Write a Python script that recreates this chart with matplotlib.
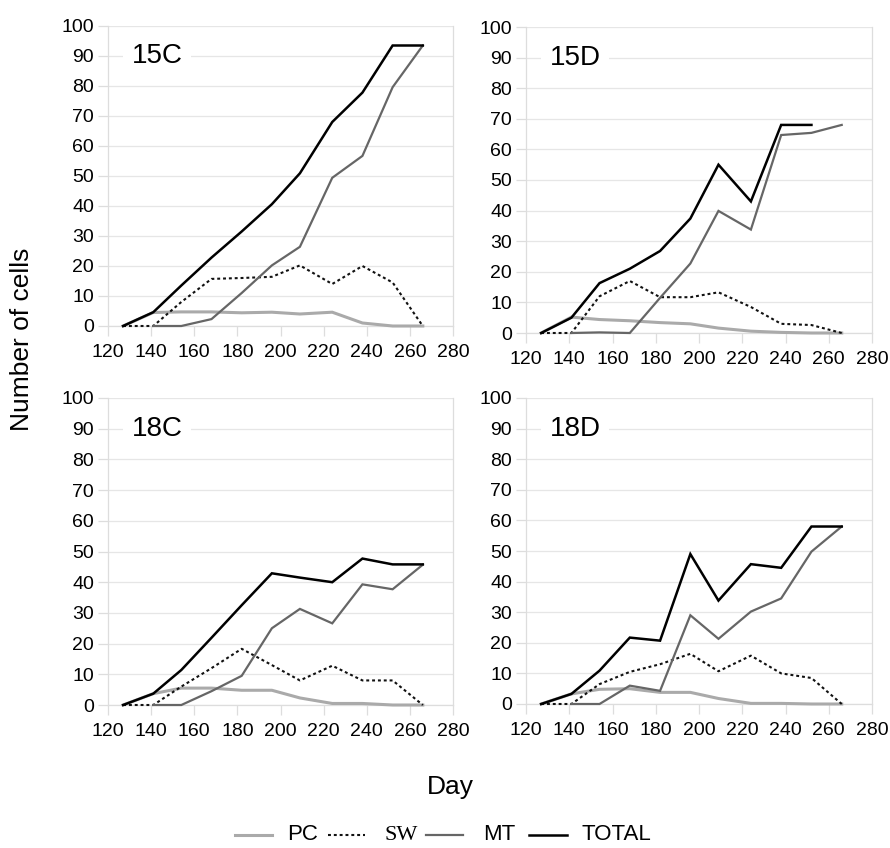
import numpy as np
import matplotlib
matplotlib.use("Agg")
import matplotlib.pyplot as plt
from matplotlib.lines import Line2D

plt.rcParams["font.family"] = ["Liberation Sans", "DejaVu Sans"]

days = [127, 141, 154, 168, 182, 196, 209, 224, 238, 252, 266]
panels = ["15C", "15D", "18C", "18D"]

pc_15C = [0, 4.5, 4.7, 4.7, 4.4, 4.6, 4.0, 4.6, 1.0, 0, 0]
sw_15C = [0, 0, 8, 15.7, 16.0, 16.4, 20.2, 14.0, 20.0, 14.5, 0]
mt_15C = [np.nan, 0, 0, 2.3, 11.0, 20.2, 26.4, 49.4, 56.7, 79.6, 93.5]
tot_15C = [0, 4.6, 13.5, 22.8, 31.5, 40.6, 50.9, 68.0, 77.8, 93.5, 93.5]

pc_15D = [0, 5.2, 4.4, 4.0, 3.4, 3.0, 1.6, 0.6, 0.2, 0, 0]
sw_15D = [0, 0, 12.0, 17.0, 11.7, 11.7, 13.3, 8.5, 3.0, 2.6, 0]
mt_15D = [np.nan, 0, 0.2, 0, 11.5, 22.7, 39.9, 33.8, 64.7, 65.4, 68.0]
tot_15D = [0, 5.0, 16.3, 21.0, 26.8, 37.4, 55.0, 43.0, 68.0, 68.0, np.nan]

pc_18C = [0, 3.7, 5.5, 5.5, 4.8, 4.8, 2.3, 0.5, 0.5, 0, 0]
sw_18C = [0, 0, 6.0, 12.0, 18.3, 13.0, 8.0, 12.8, 8.0, 8.0, 0]
mt_18C = [np.nan, 0, 0, 4.5, 9.5, 25.0, 31.3, 26.6, 39.3, 37.7, 45.7]
tot_18C = [0, 3.7, 11.4, 21.9, 32.5, 42.9, 41.5, 40.0, 47.7, 45.8, 45.8]

pc_18D = [0, 3.3, 4.8, 5.0, 3.8, 3.8, 1.8, 0.2, 0.2, 0, 0]
sw_18D = [0, 0, 6.5, 10.5, 13.0, 16.4, 10.7, 15.8, 10.0, 8.5, 0]
mt_18D = [np.nan, 0, 0, 6.0, 4.3, 29.0, 21.3, 30.2, 34.5, 49.8, 58.0]
tot_18D = [0, 3.3, 10.9, 21.7, 20.7, 49.0, 33.8, 45.7, 44.5, 58.0, 58.0]

data = {
    "15C": (pc_15C, sw_15C, mt_15C, tot_15C),
    "15D": (pc_15D, sw_15D, mt_15D, tot_15D),
    "18C": (pc_18C, sw_18C, mt_18C, tot_18C),
    "18D": (pc_18D, sw_18D, mt_18D, tot_18D),
}

series_names = ["PC", "SW", "MT", "TOTAL"]
styles = [
    dict(color="#aaaaaa", lw=2.2, ls="-"),
    dict(color="#111111", lw=1.5, ls=(0, (1.4, 1.4))),
    dict(color="#666666", lw=1.6, ls="-"),
    dict(color="#000000", lw=1.8, ls="-"),
]

W, H = 890, 848
fig = plt.figure(figsize=(W / 100, H / 100), dpi=100)

# axes boxes in pixel coords: left, right, top(100), bottom(0)
boxes = {
    "15C": (108, 453, 26, 326),
    "15D": (526, 872, 27, 333),
    "18C": (108, 453, 398, 705),
    "18D": (526, 872, 398, 704),
}

for name in panels:
    l, r, t, b = boxes[name]
    ax = fig.add_axes([l / W, 1 - b / H, (r - l) / W, (b - t) / H])
    pc, sw, mt, tot = data[name]
    for vals, st in zip((pc, sw, mt, tot), styles):
        ax.plot(days, vals, color=st["color"], lw=st["lw"], ls=st["ls"],
                solid_joinstyle="miter", clip_on=False, zorder=3)
    ax.set_xlim(120, 280)
    ax.set_ylim(0, 100)
    ax.set_xticks(np.arange(120, 281, 20))
    ax.set_yticks(np.arange(0, 101, 10))
    ax.grid(axis="y", color="#e6e6e6", lw=0.9)
    ax.set_axisbelow(True)
    for s in ax.spines.values():
        s.set_color("#dddddd")
        s.set_linewidth(0.9)
    ax.spines["top"].set_visible(False)
    ax.tick_params(axis="both", labelsize=14, colors="#dddddd",
                   labelcolor="black", length=7, width=0.9)
    ax.tick_params(axis="x", pad=6)
    ax.tick_params(axis="y", pad=3)
    ax.text(131, 90, name, fontsize=20, va="center", ha="left", zorder=4,
            bbox=dict(facecolor="white", edgecolor="none", pad=6))

fig.text(22 / W, 1 - 339 / H, "Number of cells", rotation=90,
         fontsize=19, va="center", ha="center")
fig.text(450 / W, 1 - 787 / H, "Day", fontsize=19, va="center", ha="center")

# legend, laid out along the bottom
leg_y = 1 - 835 / H
handle_x = [(235, 272), (328, 365), (426, 463), (529, 567)]
text_x = [287, 385, 483, 582]
for (x0, x1), tx, name, st in zip(handle_x, text_x, series_names, styles):
    fig.add_artist(Line2D([x0 / W, x1 / W], [leg_y, leg_y],
                          transform=fig.transFigure, color=st["color"],
                          lw=st["lw"], ls=st["ls"]))
    fam = ["Liberation Serif"] if name == "SW" else ["Liberation Sans"]
    fig.text(tx / W, leg_y, name, fontsize=16, va="center", ha="left",
             family=fam)

fig.savefig("out.png", dpi=100)
